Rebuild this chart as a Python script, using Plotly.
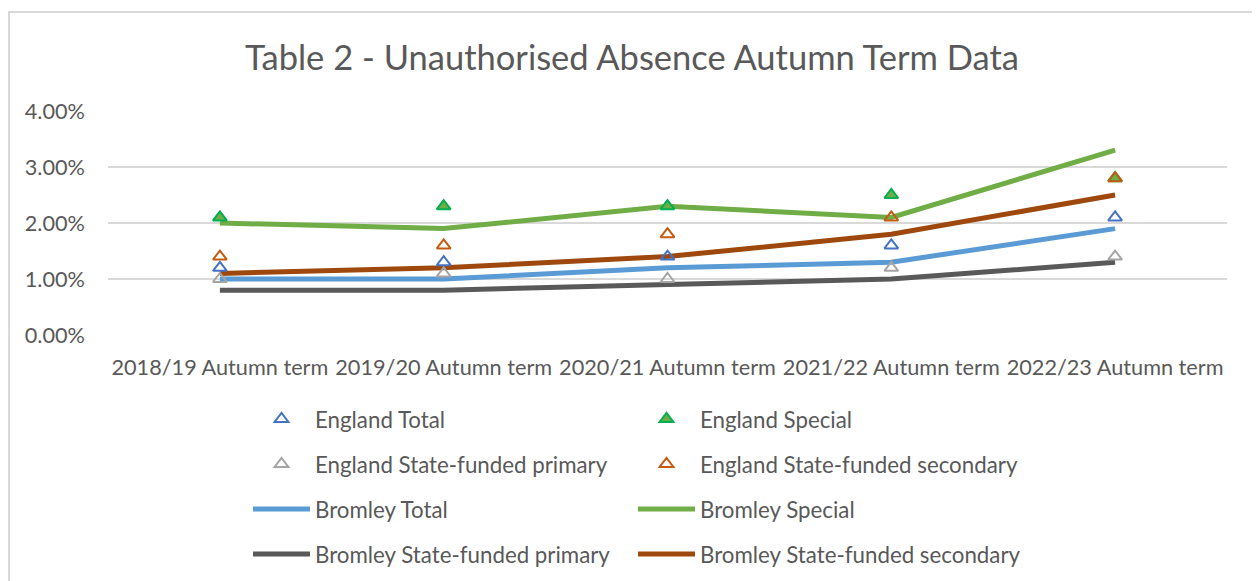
import plotly.graph_objects as go

categories = ["2018/19 Autumn term", "2019/20 Autumn term", "2020/21 Autumn term",
              "2021/22 Autumn term", "2022/23 Autumn term"]

england_total = [0.012, 0.013, 0.014, 0.016, 0.021]
england_special = [0.021, 0.023, 0.023, 0.025, 0.028]
england_primary = [0.010, 0.011, 0.010, 0.012, 0.014]
england_secondary = [0.014, 0.016, 0.018, 0.021, 0.028]

bromley_total = [0.010, 0.010, 0.012, 0.013, 0.019]
bromley_special = [0.020, 0.019, 0.023, 0.021, 0.033]
bromley_primary = [0.008, 0.008, 0.009, 0.010, 0.013]
bromley_secondary = [0.011, 0.012, 0.014, 0.018, 0.025]

y_ticks = [0, 0.01, 0.02, 0.03, 0.04]

FONT = "Lato"
TXT = "#595959"

fig = go.Figure()

def marker_trace(name, y, line_color, fill, legend):
    sym = "triangle-up" if fill else "triangle-up-open"
    fig.add_trace(go.Scatter(
        x=categories, y=y, name=name, mode="markers", legend=legend,
        marker=dict(symbol=sym, size=12, color=fill if fill else line_color,
                    line=dict(color=line_color, width=2)),
    ))

def line_trace(name, y, color, legend):
    fig.add_trace(go.Scatter(
        x=categories, y=y, name=name, mode="lines", legend=legend,
        line=dict(color=color, width=5),
    ))

line_trace("Bromley Total", bromley_total, "#5B9BD5", "legend5")
line_trace("Bromley Special", bromley_special, "#70AD47", "legend6")
line_trace("Bromley State-funded primary", bromley_primary, "#595959", "legend7")
line_trace("Bromley State-funded secondary", bromley_secondary, "#9E480E", "legend8")
marker_trace("England Total", england_total, "#4472C4", None, "legend")
marker_trace("England Special", england_special, "#00B050", "#70AD47", "legend2")
marker_trace("England State-funded primary", england_primary, "#A5A5A5", None, "legend3")
marker_trace("England State-funded secondary", england_secondary, "#C55A11", None, "legend4")

# page body has an 8px margin: work in figure coordinates = screen - 8
OFF = 8
W, H = 1252, 573
L, T = 108 - OFF, 111 - OFF
R = W - (1227 - OFF)
B = H - (335 - OFF)
pw = W - L - R
ph = H - T - B

def py(ypx):
    return (H - B - (ypx - OFF)) / ph

def px(xpx):
    return ((xpx - OFF) - L) / pw

leg_common = dict(orientation="v", xanchor="left", yanchor="middle",
                  itemwidth=57,
                  font=dict(family=FONT, size=22.3, color=TXT),
                  bgcolor="rgba(0,0,0,0)", borderwidth=0)

rows = [419, 464, 509, 554]
cols = [248, 633]
legends = {}
k = 1
for r in rows:
    for c in cols:
        key = "legend" if k == 1 else f"legend{k}"
        legends[key] = dict(leg_common, x=px(c), y=py(r))
        k += 1

fig.update_layout(
    width=W, height=H,
    margin=dict(l=L, r=R, t=T, b=B, autoexpand=False),
    paper_bgcolor="white", plot_bgcolor="white",
    font=dict(family=FONT, color=TXT),
    title=dict(text="Table 2 - Unauthorised Absence Autumn Term Data",
               x=(632 - OFF) / W, xref="container", xanchor="center",
               y=1 - (58 - OFF) / H, yref="container", yanchor="middle",
               font=dict(family=FONT, size=34.5, color=TXT)),
    xaxis=dict(type="category", range=[-0.5, 4.5], showgrid=False,
               showline=False, ticks="", ticklabelstandoff=17,
               tickfont=dict(family=FONT, size=21.7, color=TXT)),
    yaxis=dict(range=[0, 0.04], tickvals=y_ticks, tickformat=".2%",
               showgrid=True, gridcolor="#D9D9D9", gridwidth=1.5,
               zeroline=False, showline=False, ticks="",
               ticklabelstandoff=22,
               tickfont=dict(family=FONT, size=21.7, color=TXT)),
    shapes=[dict(type="path", xref="paper", yref="paper",
                 path=f"M {px(9)},{py(600)} L {px(9)},{py(12)} L {px(1255)},{py(12)} L {px(1255)},{py(600)}",
                 line=dict(color="#D9D9D9", width=2))],
    showlegend=True,
    **legends,
)

fig.write_html("out.html")
